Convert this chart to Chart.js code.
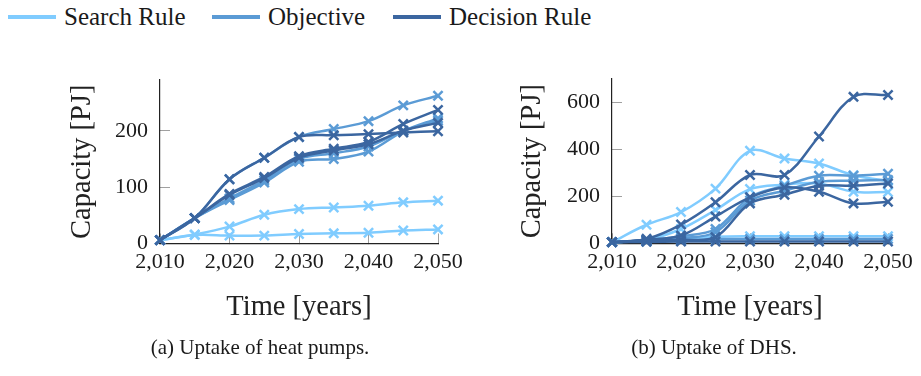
<!DOCTYPE html>
<html>
<head>
<meta charset="utf-8">
<script src="https://cdn.jsdelivr.net/npm/chart.js@4"></script>
<style>
  body { margin:0; width:921px; height:376px; background:#fff; position:relative; overflow:hidden;
         font-family:"Liberation Serif", serif; color:#1a1a1a; }
  .key { position:absolute; top:14.75px; height:4.5px; width:48px; }
  .kt  { position:absolute; top:0; line-height:34px; font-size:25px; white-space:nowrap; }
  .box { position:absolute; top:60px; height:280px; }
  .cap { position:absolute; top:335px; line-height:24px; font-size:21px; white-space:nowrap; transform:translateX(-50%); }
</style>
</head>
<body>
<div id="legend"></div>
<div class="box" style="left:0;width:470px"><canvas id="hp"></canvas></div>
<div class="box" style="left:460px;width:461px"><canvas id="dhs"></canvas></div>
<div class="cap" style="left:260px">(a) Uptake of heat pumps.</div>
<div class="cap" style="left:714px">(b) Uptake of DHS.</div>
<script>
// Model years on the x axis
const years = [2010, 2015, 2020, 2025, 2030, 2035, 2040, 2045, 2050];

// Tick values
const xTicks     = [2010, 2020, 2030, 2040, 2050];
const hpYTicks   = [0, 100, 200];
const dhsYTicks  = [0, 200, 400, 600];

// Strategy groups, their colours and legend placement
const groupNames  = ['Search Rule', 'Objective', 'Decision Rule'];
const groupColors = ['#80ccff', '#5b9bd5', '#3b66a0'];
const legendX     = [8, 212, 393];

// Heat pump capacity [PJ], one array per run
const hpSearch1    = [6, 16, 30, 51, 61, 64, 67, 73, 76];
const hpSearch2    = [6, 15, 14, 14, 17, 18, 19, 23, 25];
const hpObjective1 = [6, 45, 114, 152, 189, 203, 217, 245, 262];
const hpObjective2 = [6, 45, 77, 108, 145, 150, 163, 199, 222];
const hpObjective3 = [6, 45, 80, 112, 150, 160, 172, 200, 218];
const hpDecision1  = [6, 45, 114, 152, 189, 192, 194, 197, 199];
const hpDecision2  = [6, 45, 88, 118, 155, 168, 180, 212, 237];
const hpDecision3  = [6, 45, 86, 116, 152, 165, 176, 200, 214];

// District heating capacity [PJ], one array per run
const dhsSearch1    = [5, 79, 133, 233, 394, 361, 340, 290, 265];
const dhsSearch2    = [5, 15, 61, 142, 231, 250, 255, 220, 218];
const dhsSearch3    = [5, 10, 20, 28, 30, 30, 30, 30, 30];
const dhsObjective1 = [5, 12, 30, 61, 196, 245, 288, 288, 296];
const dhsObjective2 = [5, 10, 22, 47, 182, 224, 262, 267, 270];
const dhsObjective3 = [5, 8, 12, 18, 18, 18, 18, 18, 18];
const dhsDecision1  = [5, 19, 80, 175, 291, 291, 455, 624, 632];
const dhsDecision2  = [5, 15, 33, 114, 196, 238, 220, 170, 177];
const dhsDecision3  = [5, 12, 15, 26, 170, 207, 245, 245, 255];
const dhsDecision4  = [5, 6, 8, 8, 8, 8, 8, 8, 8];

Chart.defaults.font.family = '"Liberation Serif", serif';
Chart.defaults.color = '#1a1a1a';

// Legend row
const legend = document.getElementById('legend');
groupNames.forEach((name, i) => {
  const k = document.createElement('div');
  k.className = 'key';
  k.style.left = legendX[i] + 'px';
  k.style.background = groupColors[i];
  legend.appendChild(k);
  const t = document.createElement('div');
  t.className = 'kt';
  t.style.left = (legendX[i] + 56) + 'px';
  t.textContent = name;
  legend.appendChild(t);
});

function run(values, group) {
  return {
    label: groupNames[group],
    data: years.map((x, i) => ({ x, y: values[i] })),
    borderColor: groupColors[group],
    backgroundColor: groupColors[group],
    borderWidth: 2.5,
    tension: 0.35,
    pointStyle: 'crossRot',
    pointRadius: 6.5,
    pointBorderWidth: 2.5,
    pointHoverRadius: 6.5,
    clip: false,
    order: 2 - group
  };
}

// keep tick labels from pushing the plot area inward
function noEdgePadding(s) {
  s.paddingTop = 0; s.paddingBottom = 0; s.paddingLeft = 0; s.paddingRight = 0;
}

function options(yMax, yTicks, yWidth, yTitleOffset, rightPad, topPad, plotHeight) {
  return {
    responsive: true,
    maintainAspectRatio: false,
    animation: false,
    layout: { padding: { top: topPad, right: rightPad, left: 0, bottom: 0 } },
    plugins: { legend: { display: false }, tooltip: { enabled: false } },
    scales: {
      x: {
        type: 'linear', min: xTicks[0], max: xTicks[xTicks.length - 1],
        border: { color: '#222', width: 1.2 },
        grid: { drawOnChartArea: false, tickLength: -10, tickColor: '#a0a0a0', tickWidth: 1 },
        ticks: { padding: 15.3, font: { size: 22 }, color: '#1a1a1a',
                 callback: v => v.toLocaleString('en-US') },
        afterBuildTicks: s => { s.ticks = xTicks.map(value => ({ value })); },
        title: { display: true, text: 'Time [years]', font: { size: 28.5 }, color: '#222',
                 padding: { top: 0, bottom: 15.5 } },
        afterFit: s => { s.height = 280 - topPad - plotHeight; noEdgePadding(s); }
      },
      y: {
        type: 'linear', min: 0, max: yMax,
        border: { color: '#222', width: 1.2 },
        grid: { drawOnChartArea: false, tickLength: -10, tickColor: '#a0a0a0', tickWidth: 1 },
        ticks: { padding: 22, font: { size: 22 }, color: '#1a1a1a' },
        afterBuildTicks: s => { s.ticks = yTicks.map(value => ({ value })); },
        title: { display: true, text: 'Capacity [PJ]', font: { size: 28.5 }, color: '#222',
                 padding: { top: yTitleOffset, bottom: 0 } },
        afterFit: s => { s.width = yWidth; noEdgePadding(s); }
      }
    }
  };
}

new Chart(document.getElementById('hp'), {
  type: 'line',
  data: { datasets: [
    run(hpSearch1, 0), run(hpSearch2, 0),
    run(hpObjective1, 1), run(hpObjective2, 1), run(hpObjective3, 1),
    run(hpDecision1, 2), run(hpDecision2, 2), run(hpDecision3, 2)
  ] },
  options: options(290, hpYTicks, 160, 65.5, 32, 20, 163.5)
});

new Chart(document.getElementById('dhs'), {
  type: 'line',
  data: { datasets: [
    run(dhsSearch1, 0), run(dhsSearch2, 0), run(dhsSearch3, 0),
    run(dhsObjective1, 1), run(dhsObjective2, 1), run(dhsObjective3, 1),
    run(dhsDecision1, 2), run(dhsDecision2, 2), run(dhsDecision3, 2), run(dhsDecision4, 2)
  ] },
  options: options(700, dhsYTicks, 152, 55.5, 33, 19, 164.3)
});
</script>
</body>
</html>
